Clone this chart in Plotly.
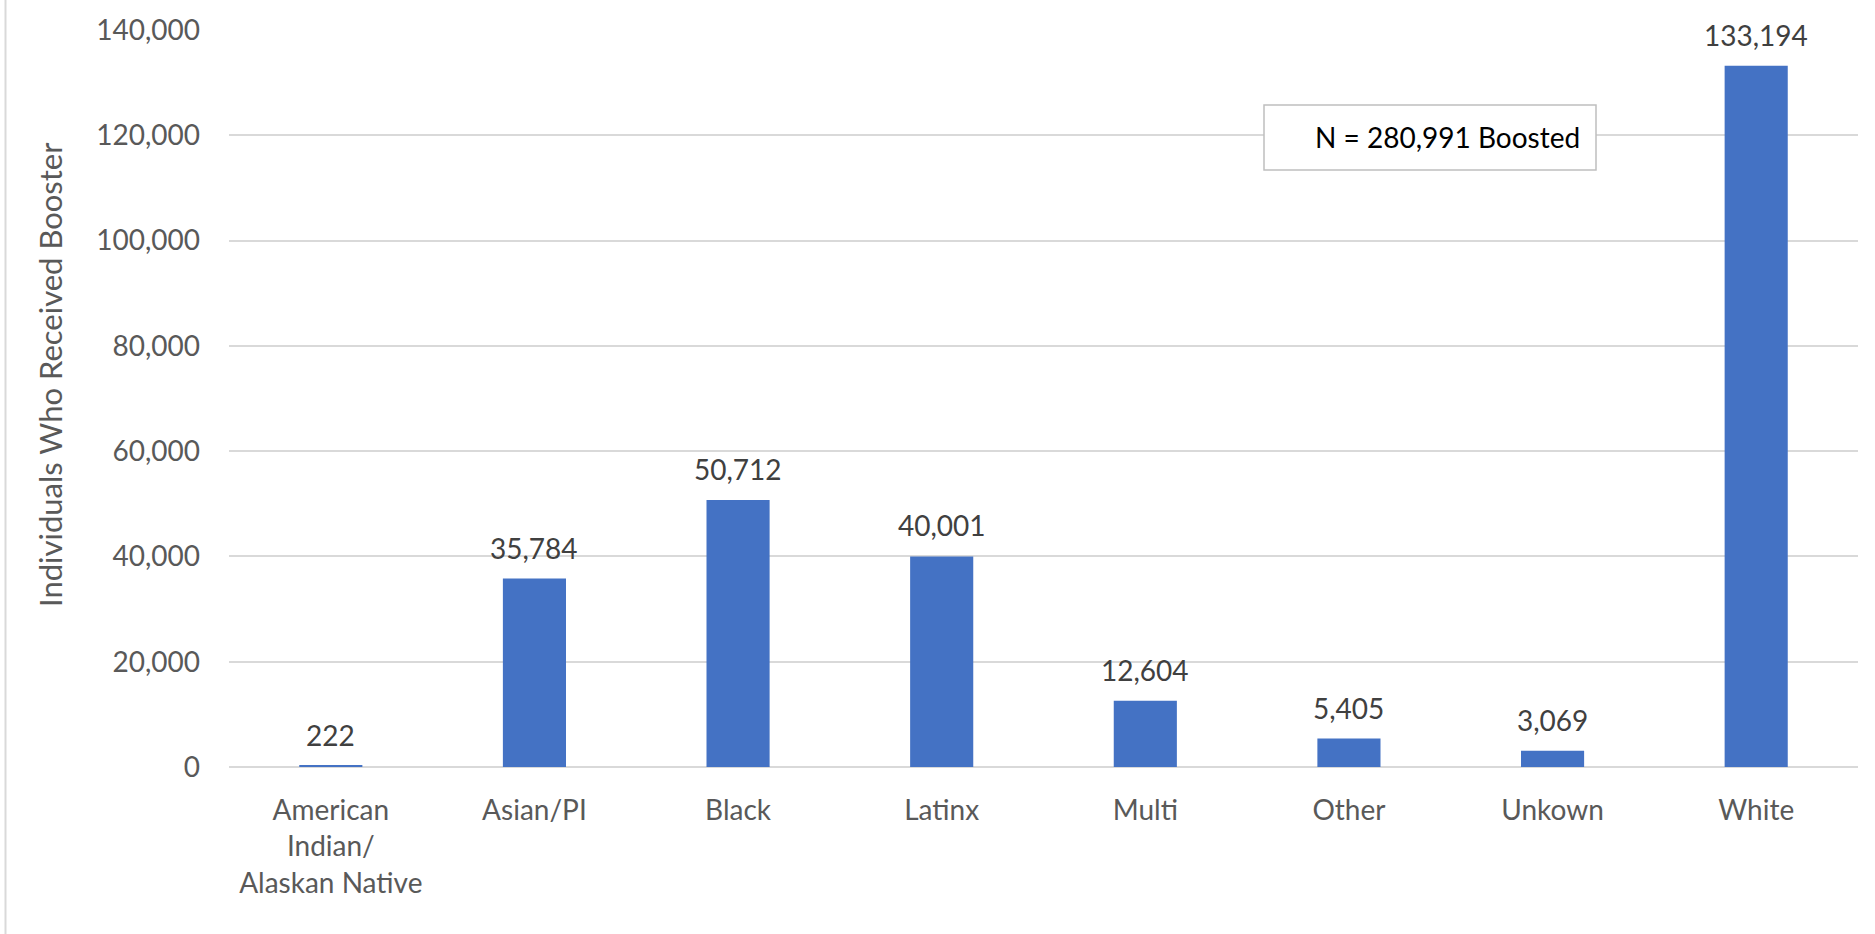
import plotly.graph_objects as go

categories = ["American<br>Indian/<br>Alaskan Native", "Asian/PI", "Black", "Latinx",
              "Multi", "Other", "Unkown", "White"]
values = [222, 35784, 50712, 40001, 12604, 5405, 3069, 133194]
tick_vals = [0, 20000, 40000, 60000, 80000, 100000, 120000, 140000]
tick_text = ["0", "20,000", "40,000", "60,000", "80,000", "100,000", "120,000", "140,000"]
y_title = "Individuals Who Received Booster"
note = "N = 280,991 Boosted"

FONT = "Lato"
W, H = 1875, 934
L, R, T, B = 229, 17, 30, 167
pw, ph = W - L - R, H - T - B


def px(x):
    return (x - L) / pw


def py(y):
    return (H - B - y) / ph


fig = go.Figure()
fig.add_trace(go.Bar(
    x=categories, y=values, width=0.31,
    marker=dict(color="#4472C4", line=dict(width=0)),
    hoverinfo="skip",
))
# data labels
for c, v in zip(categories, values):
    fig.add_annotation(
        x=c, y=v, text=f"{v:,}", showarrow=False, yanchor="bottom", xanchor="center",
        yshift=12, font=dict(family=FONT, size=28, color="#404040"),
    )

fig.update_layout(
    width=W, height=H, margin=dict(l=L, r=R, t=T, b=B, autoexpand=False),
    paper_bgcolor="white", plot_bgcolor="white", showlegend=False,
    font=dict(family=FONT, color="#595959", size=28),
)
fig.update_xaxes(
    showgrid=False, showline=False, ticks="", tickfont=dict(size=28, color="#595959"),
    ticklabelstandoff=24,
)
fig.update_yaxes(
    range=[0, 140000], tickvals=tick_vals, ticktext=tick_text,
    showgrid=True, gridcolor="#D9D9D9", gridwidth=1.5,
    zeroline=True, zerolinecolor="#D9D9D9", zerolinewidth=1.5,
    showline=False, ticks="", ticklabelstandoff=28,
    tickfont=dict(size=28, color="#595959"),
)
# axis title
fig.add_annotation(
    text=y_title, textangle=-90, xref="paper", yref="paper",
    x=px(50), y=py(375), xanchor="center", yanchor="middle", showarrow=False,
    font=dict(family=FONT, size=31, color="#595959"),
)
# N box
fig.add_shape(
    type="rect", xref="paper", yref="paper",
    x0=px(1264), x1=px(1596), y0=py(170), y1=py(105),
    line=dict(color="#BFBFBF", width=1.5), fillcolor="white", layer="above",
)
fig.add_annotation(
    text=note, xref="paper", yref="paper",
    x=px(1447), y=py(137), xanchor="center", yanchor="middle", showarrow=False,
    font=dict(family=FONT, size=28, color="#000000"),
)
# left border of chart area
fig.add_shape(
    type="line", xref="paper", yref="paper",
    x0=px(5.5), x1=px(5.5), y0=-B / ph, y1=1 + T / ph,
    line=dict(color="#D9D9D9", width=2),
)

fig.write_html("out.html", config={"displayModeBar": False},
               post_script="document.body.style.margin='0px';")
